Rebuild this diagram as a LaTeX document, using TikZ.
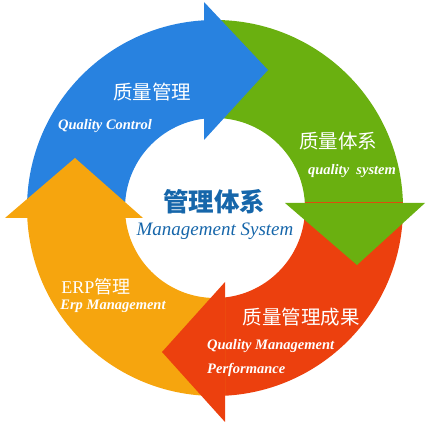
\documentclass[tikz,border=0pt]{standalone}
\usepackage{fontspec}
\setmainfont{Liberation Serif}
\newfontfamily\cjk{Noto Sans CJK SC}
\definecolor{cblue}{RGB}{40,130,224}
\definecolor{cgreen}{RGB}{106,176,16}
\definecolor{cred}{RGB}{236,64,14}
\definecolor{corange}{RGB}{246,165,14}
\definecolor{ctext}{RGB}{22,102,170}
\begin{document}
\begin{tikzpicture}[x=1pt,y=1pt,
  ringpart/.style={even odd rule},
  cjklabel/.style={text=white,inner sep=0pt,font=\cjk\fontsize{19.5}{21}\selectfont},
  enlabel/.style={text=white,inner sep=0pt,font=\bfseries\itshape\fontsize{14.5}{16}\selectfont},
]
\useasboundingbox (0,0) rectangle (433,422);
\coordinate (c) at (215,214);
% ring bodies
\begin{scope}
  \clip (0,204) rectangle (204,422);
  \fill[cblue,ringpart] (c) circle (188) (c) circle (90);
\end{scope}
\begin{scope}
  \clip (204,219) rectangle (433,422);
  \fill[cgreen,ringpart] (c) circle (188) (c) circle (90);
\end{scope}
\begin{scope}
  \clip (225,0) rectangle (433,219);
  \fill[cred,ringpart] (c) circle (188) (c) circle (90);
\end{scope}
\begin{scope}
  \clip (0,0) rectangle (225,204);
  \fill[corange,ringpart] (c) circle (188) (c) circle (90);
\end{scope}
% arrow heads
\fill[cblue] (204,420) -- (268,352) -- (204,282) -- cycle;
\fill[cgreen] (285,219) -- (425,219) -- (357,157) -- cycle;
\fill[cred] (225,140) -- (162,70) -- (225,0) -- cycle;
\fill[corange] (5,204) -- (75,264) -- (143,204) -- cycle;
% labels
\node[cjklabel] (t1) at (152,330) {质量管理};
\node[enlabel] (e1) at (105,296) {Quality Control};
\node[cjklabel] (t2) at (338,281) {质量体系};
\node[enlabel] (e2) at (352,251) {quality\ \ system};
\node[inner sep=0pt,text=ctext,font=\cjk\bfseries\fontsize{25.5}{27}\selectfont] (t0) at (214,220) {管理体系};
\node[inner sep=0pt,text=ctext,font=\itshape\fontsize{19}{21}\selectfont] (e0) at (215,191) {Management System};
\node[text=white,inner sep=0pt,font=\fontsize{18}{20}\selectfont] (t4) at (96,135) {ERP{\cjk 管理}};
\node[enlabel] (e4) at (113,116) {Erp Management};
\node[cjklabel] (t3) at (301,105) {质量管理成果};
\node[enlabel,anchor=west] (e3a) at (207,76) {Quality Management};
\node[enlabel,anchor=west] (e3b) at (207,52) {Performance};
\end{tikzpicture}
\end{document}
